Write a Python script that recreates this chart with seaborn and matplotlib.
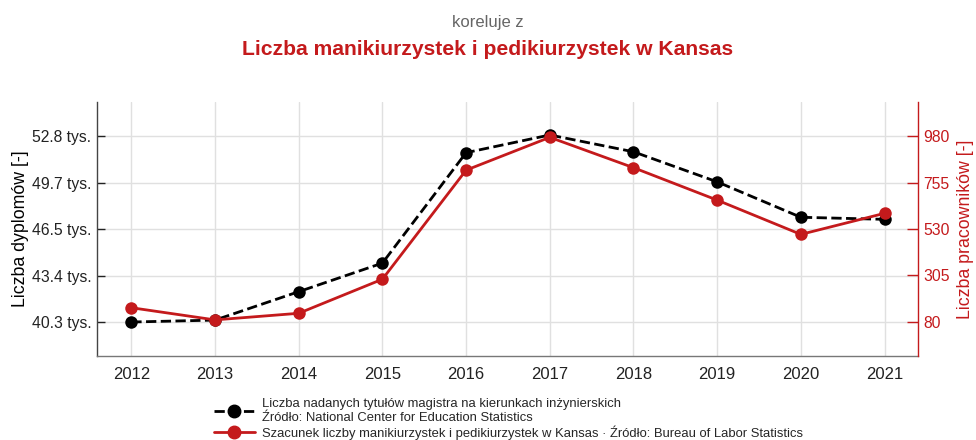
import numpy as np
import pandas as pd
import seaborn as sns
import matplotlib
matplotlib.use('Agg')
import matplotlib.pyplot as plt
from matplotlib.lines import Line2D

years = [2012, 2013, 2014, 2015, 2016, 2017, 2018, 2019, 2020, 2021]
degrees = [40.3, 40.43, 42.34, 44.26, 51.68, 52.87, 51.74, 49.72, 47.34, 47.2]  # tys.
workers = [149, 90, 122, 287, 815, 974, 827, 670, 504, 606]

left_ticks = [40.3, 43.425, 46.55, 49.675, 52.8]
left_labels = ['40.3 tys.', '43.4 tys.', '46.5 tys.', '49.7 tys.', '52.8 tys.']
right_ticks = [80, 305, 530, 755, 980]

label_degrees = 'Liczba nadanych tytułów magistra na kierunkach inżynierskich\nŹródło: National Center for Education Statistics'
label_workers = 'Szacunek liczby manikiurzystek i pedikiurzystek w Kansas · Źródło: Bureau of Labor Statistics'

RED = '#c41a1c'
GRAY = '#222222'

sns.set_theme(style='whitegrid')
plt.rcParams['font.family'] = ['Liberation Sans', 'DejaVu Sans']

df = pd.DataFrame({'year': years, 'degrees': degrees, 'workers': workers})

fig = plt.figure(figsize=(9.76, 4.4), dpi=100)
ax = fig.add_axes([0.0994, 0.191, 0.8412, 0.577])
ax2 = ax.twinx()

sns.lineplot(data=df, x='year', y='degrees', ax=ax, color='black', linestyle='--',
             linewidth=2, marker='o', markersize=9, markeredgewidth=0)
sns.lineplot(data=df, x='year', y='workers', ax=ax2, color=RED,
             linewidth=2, marker='o', markersize=9, markeredgewidth=0)

ax.set_xlim(2011.59, 2021.4)
ax.set_ylim(38.02, 55.08)
ax2.set_ylim(-84.6, 1144.6)

ax.set_xticks(years)
ax.set_xticklabels([str(y) for y in years], fontsize=12, color=GRAY)
ax.set_yticks(left_ticks)
ax.set_yticklabels(left_labels, fontsize=11.3, color=GRAY)
ax2.set_yticks(right_ticks)
ax2.set_yticklabels([str(t) for t in right_ticks], fontsize=11.3, color=RED)

ax.grid(True, color='#e0e0e0', linewidth=1)
ax2.grid(False)
ax.set_facecolor('white')

ax.tick_params(axis='y', direction='in', length=6, width=1, color=GRAY, left=True, pad=4)
ax.tick_params(axis='x', length=0, pad=8)
ax2.tick_params(axis='y', direction='in', length=8, width=1, color=RED, right=True, pad=4)

ax.set_xlabel('')
ax.set_ylabel('Liczba dyplomów [-]', fontsize=12.8, color='black', labelpad=2)
ax2.set_ylabel('Liczba pracowników [-]', fontsize=12.8, color=RED, labelpad=5)

for a in (ax, ax2):
    a.spines['top'].set_visible(False)
    a.spines['left'].set_color('#444444')
    a.spines['bottom'].set_color('#777777')
    a.spines['right'].set_color(RED)
    for s in a.spines.values():
        s.set_linewidth(1)
ax.spines['right'].set_visible(False)
ax2.spines['left'].set_visible(False)
ax2.spines['bottom'].set_visible(False)

fig.text(0.5, 0.95, 'koreluje z', ha='center', va='center', fontsize=12, color='#666666')
fig.text(0.5, 0.888, 'Liczba manikiurzystek i pedikiurzystek w Kansas', ha='center', va='center',
         fontsize=15.2, fontweight='bold', color=RED)

handles = [
    Line2D([], [], color='black', linestyle='--', linewidth=2, marker='o', markersize=9),
    Line2D([], [], color=RED, linewidth=2, marker='o', markersize=9),
]
fig.legend(handles, [label_degrees, label_workers], loc='upper left',
           bbox_to_anchor=(0.214, 0.108), frameon=False, fontsize=9.4,
           handlelength=3.1, handletextpad=0.6, labelspacing=0.15, borderaxespad=0)

fig.savefig('out.png', dpi=100, facecolor='white')
